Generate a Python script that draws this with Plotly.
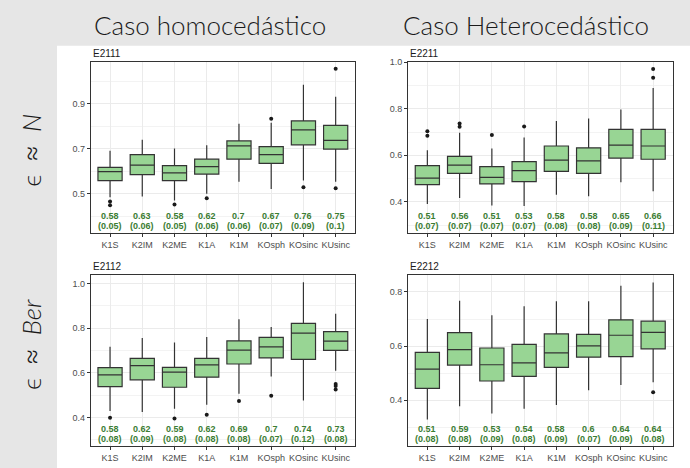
import plotly.graph_objects as go

methods = ["K1S", "K2IM", "K2ME", "K1A", "K1M", "KOsph", "KOsinc", "KUsinc"]

# E2111 (homoscedastic, normal errors)
e2111_q1 = [0.559, 0.585, 0.559, 0.588, 0.654, 0.635, 0.718, 0.699]
e2111_med = [0.599, 0.628, 0.593, 0.621, 0.713, 0.674, 0.784, 0.738]
e2111_q3 = [0.618, 0.674, 0.625, 0.654, 0.735, 0.710, 0.824, 0.804]
e2111_lo = [0.485, 0.488, 0.471, 0.500, 0.554, 0.522, 0.559, 0.554]
e2111_hi = [0.691, 0.740, 0.701, 0.716, 0.812, 0.816, 0.985, 0.931]
e2111_out_x = ["K1S", "K1S", "K2ME", "K1A", "KOsph", "KOsinc", "KUsinc", "KUsinc"]
e2111_out_y = [0.466, 0.449, 0.453, 0.481, 0.834, 0.529, 1.056, 0.525]
e2111_mean = [0.58, 0.63, 0.58, 0.62, 0.7, 0.67, 0.76, 0.75]
e2111_sd = [0.05, 0.06, 0.05, 0.06, 0.06, 0.07, 0.09, 0.1]

# E2211 (heteroscedastic, normal errors)
e2211_q1 = [0.474, 0.522, 0.477, 0.487, 0.531, 0.522, 0.588, 0.583]
e2211_med = [0.502, 0.558, 0.505, 0.534, 0.579, 0.576, 0.644, 0.640]
e2211_q3 = [0.556, 0.595, 0.551, 0.573, 0.640, 0.632, 0.711, 0.711]
e2211_lo = [0.391, 0.417, 0.384, 0.382, 0.430, 0.424, 0.484, 0.445]
e2211_hi = [0.622, 0.697, 0.629, 0.676, 0.747, 0.758, 0.797, 0.889]
e2211_out_x = ["K1S", "K1S", "K2IM", "K2IM", "K2ME", "K1A", "KUsinc", "KUsinc"]
e2211_out_y = [0.703, 0.684, 0.737, 0.723, 0.687, 0.724, 0.971, 0.933]
e2211_mean = [0.51, 0.56, 0.51, 0.53, 0.58, 0.58, 0.65, 0.66]
e2211_sd = [0.07, 0.07, 0.07, 0.07, 0.08, 0.08, 0.09, 0.11]

# E2112 (homoscedastic, Bernoulli errors)
e2112_q1 = [0.539, 0.569, 0.536, 0.581, 0.640, 0.667, 0.661, 0.701]
e2112_med = [0.591, 0.633, 0.604, 0.636, 0.702, 0.717, 0.778, 0.742]
e2112_q3 = [0.624, 0.665, 0.625, 0.665, 0.744, 0.759, 0.822, 0.785]
e2112_lo = [0.430, 0.425, 0.440, 0.458, 0.507, 0.584, 0.477, 0.610]
e2112_hi = [0.717, 0.756, 0.736, 0.761, 0.840, 0.806, 1.006, 0.865]
e2112_out_x = ["K1S", "K2ME", "K1A", "K1M", "KOsph", "KUsinc", "KUsinc", "KUsinc"]
e2112_out_y = [0.399, 0.396, 0.413, 0.474, 0.498, 0.551, 0.541, 0.526]
e2112_mean = [0.58, 0.62, 0.59, 0.62, 0.69, 0.7, 0.74, 0.73]
e2112_sd = [0.08, 0.09, 0.08, 0.08, 0.08, 0.07, 0.12, 0.08]

# E2212 (heteroscedastic, Bernoulli errors)
e2212_q1 = [0.444, 0.530, 0.471, 0.488, 0.521, 0.559, 0.561, 0.590]
e2212_med = [0.515, 0.587, 0.531, 0.538, 0.575, 0.601, 0.640, 0.651]
e2212_q3 = [0.577, 0.650, 0.593, 0.606, 0.645, 0.643, 0.697, 0.692]
e2212_lo = [0.329, 0.378, 0.351, 0.368, 0.382, 0.437, 0.456, 0.466]
e2212_hi = [0.700, 0.768, 0.714, 0.747, 0.766, 0.766, 0.823, 0.835]
e2212_out_x = ["KUsinc"]
e2212_out_y = [0.429]
e2212_mean = [0.51, 0.59, 0.53, 0.54, 0.58, 0.6, 0.64, 0.64]
e2212_sd = [0.08, 0.08, 0.09, 0.08, 0.09, 0.07, 0.09, 0.08]

W, H = 690, 468
FILL = "#98d594"
LINE = "#333333"
GREEN = "#3b7d33"
TICK_GREY = "#4d4d4d"

panels = [
    dict(name="E2111", q1=e2111_q1, med=e2111_med, q3=e2111_q3, lo=e2111_lo, hi=e2111_hi,
         ox=e2111_out_x, oy=e2111_out_y, mean=e2111_mean, sd=e2111_sd,
         xdom=(90.7, 355), ydom=(58, 231), yrange=(0.326, 1.088), tick0=0.5),
    dict(name="E2211", q1=e2211_q1, med=e2211_med, q3=e2211_q3, lo=e2211_lo, hi=e2211_hi,
         ox=e2211_out_x, oy=e2211_out_y, mean=e2211_mean, sd=e2211_sd,
         xdom=(408, 672.5), ydom=(58, 231), yrange=(0.266, 1.003), tick0=0.4),
    dict(name="E2112", q1=e2112_q1, med=e2112_med, q3=e2112_q3, lo=e2112_lo, hi=e2112_hi,
         ox=e2112_out_x, oy=e2112_out_y, mean=e2112_mean, sd=e2112_sd,
         xdom=(90.7, 355), ydom=(273, 446), yrange=(0.272, 1.04), tick0=0.4),
    dict(name="E2212", q1=e2212_q1, med=e2212_med, q3=e2212_q3, lo=e2212_lo, hi=e2212_hi,
         ox=e2212_out_x, oy=e2212_out_y, mean=e2212_mean, sd=e2212_sd,
         xdom=(408, 672.5), ydom=(273, 446), yrange=(0.23, 0.864), tick0=0.4),
]

fig = go.Figure()
annotations = []
layout_axes = {}

for i, p in enumerate(panels, start=1):
    sfx = "" if i == 1 else str(i)
    xa, ya = "x" + sfx, "y" + sfx
    fig.add_trace(go.Box(
        x=methods, q1=p["q1"], median=p["med"], q3=p["q3"],
        lowerfence=p["lo"], upperfence=p["hi"],
        xaxis=xa, yaxis=ya, width=0.75, whiskerwidth=0,
        fillcolor=FILL, line=dict(color=LINE, width=1.2),
        boxpoints=False, showlegend=False, hoverinfo="skip",
    ))
    fig.add_trace(go.Scatter(
        x=p["ox"], y=p["oy"], mode="markers", xaxis=xa, yaxis=ya,
        marker=dict(color="#1a1a1a", size=4), showlegend=False, hoverinfo="skip",
    ))

    x0, x1 = p["xdom"]
    y0, y1 = p["ydom"]
    layout_axes["xaxis" + sfx] = dict(
        domain=[x0 / W, x1 / W], anchor=ya, type="category",
        categoryorder="array", categoryarray=methods, range=[-0.6, 7.6],
        showgrid=True, gridcolor="#ebebeb", gridwidth=1,
        showline=True, linecolor=LINE, linewidth=1, mirror=True,
        ticks="outside", ticklen=3, tickcolor=LINE,
        tickfont=dict(family="Liberation Sans, Arial", size=9, color=TICK_GREY),
        zeroline=False, fixedrange=True,
    )
    layout_axes["yaxis" + sfx] = dict(
        domain=[1 - y1 / H, 1 - y0 / H], anchor=xa, range=list(p["yrange"]),
        tick0=p["tick0"], dtick=0.2, tickformat=".1f",
        showgrid=True, gridcolor="#ebebeb", gridwidth=1,
        minor=dict(dtick=0.1, tick0=p["tick0"], showgrid=True, gridcolor="#f3f3f3", gridwidth=0.8),
        showline=True, linecolor=LINE, linewidth=1, mirror=True,
        ticks="outside", ticklen=3, tickcolor=LINE,
        tickfont=dict(family="Liberation Sans, Arial", size=9, color=TICK_GREY),
        zeroline=False, fixedrange=True,
    )
    # panel title
    annotations.append(dict(
        text=p["name"], x=x0 / W, y=1 - y0 / H, xref="paper", yref="paper",
        xanchor="left", yanchor="bottom", yshift=1, showarrow=False,
        font=dict(family="Liberation Sans, Arial", size=10, color="#1a1a1a"),
    ))
    # mean and (sd) under each box
    for m, mu, sd in zip(methods, p["mean"], p["sd"]):
        annotations.append(dict(
            text=f"<b>{mu:g}</b>", x=m, y=0, xref=xa, yref=ya + " domain",
            yanchor="middle", yshift=17.5, showarrow=False,
            font=dict(family="Liberation Sans, Arial", size=9, color=GREEN),
        ))
        annotations.append(dict(
            text=f"<b>({sd:g})</b>", x=m, y=0, xref=xa, yref=ya + " domain",
            yanchor="middle", yshift=7.5, showarrow=False,
            font=dict(family="Liberation Sans, Arial", size=9, color=GREEN),
        ))

HEAD_FONT = dict(family="Lato", size=26, color="#1a1a1a", weight=300)
APPROX = "<span style='font-family:DejaVu Sans'>≈</span>"

# column headers
annotations.append(dict(
    text="Caso homocedástico", x=210 / W, y=1 - 21 / H, xref="paper", yref="paper",
    xanchor="center", yanchor="middle", showarrow=False, font=HEAD_FONT,
))
annotations.append(dict(
    text="Caso Heterocedástico", x=526 / W, y=1 - 21 / H, xref="paper", yref="paper",
    xanchor="center", yanchor="middle", showarrow=False, font=HEAD_FONT,
))
# row headers
annotations.append(dict(
    text=f"ϵ  {APPROX}  <i>N</i>", x=31 / W, y=1 - 148 / H, xref="paper", yref="paper",
    xanchor="center", yanchor="middle", textangle=-90, showarrow=False, font=HEAD_FONT,
))
annotations.append(dict(
    text=f"ϵ  {APPROX}  <i>Ber</i>", x=31 / W, y=1 - 344 / H, xref="paper", yref="paper",
    xanchor="center", yanchor="middle", textangle=-90, showarrow=False, font=HEAD_FONT,
))

fig.update_layout(
    width=W, height=H, margin=dict(l=0, r=0, t=0, b=0),
    paper_bgcolor="#e6e6e6", plot_bgcolor="white",
    annotations=annotations,
    shapes=[dict(type="rect", xref="paper", yref="paper",
                 x0=57 / W, x1=1, y0=0, y1=1 - 42 / H,
                 fillcolor="white", line=dict(width=0), layer="below")],
    **layout_axes,
)

fig.write_html("out.html")
